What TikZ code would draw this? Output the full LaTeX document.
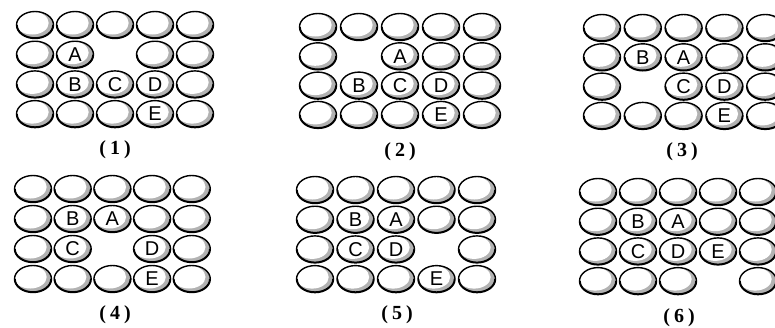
\documentclass[tikz,border=0pt]{standalone}
\usepackage{fontspec}
\usetikzlibrary{shapes.geometric,calc}
\newfontfamily\ballfont{Liberation Sans}
\newfontfamily\capfont{Liberation Serif}
\tikzset{
  ball/.style={ellipse, draw=black, line width=1.4pt, fill=white,
    minimum width=37pt, minimum height=27pt, inner sep=0pt,
    path picture={
      \fill[black!30] (path picture bounding box.center) ellipse [x radius=19pt, y radius=14pt];
      \fill[white] ($(path picture bounding box.center)+(-2.8pt,2pt)$) ellipse [x radius=16.5pt, y radius=11.5pt];
      \draw[line width=2.6pt] ($(path picture bounding box.center)+(-18.5pt,0pt)$)
        arc[start angle=180, end angle=360, x radius=18.5pt, y radius=13.5pt];
    }},
  letter/.style={inner sep=0pt, font=\ballfont\fontsize{20}{20}\selectfont},
  captext/.style={inner sep=0pt, font=\capfont\bfseries\fontsize{20}{20}\selectfont}
}
\newcommand\drawpanel[8]{%
  \foreach \c in {1,...,5}{\foreach \r in {1,...,4}{%
    \pgfmathtruncatemacro\isgap{(\c==#6)&&(\r==#7)}%
    \ifnum\isgap=0
      \node[ball] (#1-\c-\r) at ({#2+(\c-1)*#4},{#3+(\r-1)*#5}) {};
    \fi}}%
  \foreach \cc/\rr/\LL in {#8}{\node[letter] (#1-L\LL) at (#1-\cc-\rr) {\LL};}%
}
\newcommand\capt[1]{(\hspace{4pt}#1\hspace{4pt})}
\begin{document}
\begin{tikzpicture}[x=1pt,y=-1pt]
\fill[white] (0,0) rectangle (775,327);
\useasboundingbox (0,0) rectangle (775,327);
\drawpanel{p1}{35}{25}{40}{29.7}{3}{2}{2/2/A,2/3/B,3/3/C,4/3/D,4/4/E}
\drawpanel{p2}{318}{27}{41}{29.3}{2}{2}{3/2/A,2/3/B,3/3/C,4/3/D,4/4/E}
\drawpanel{p3}{602}{28}{40.8}{29.3}{2}{3}{3/2/A,2/2/B,3/3/C,4/3/D,4/4/E}
\drawpanel{p4}{33}{189}{39.7}{30}{3}{3}{3/2/A,2/2/B,2/3/C,4/3/D,4/4/E}
\drawpanel{p5}{315}{190}{40.5}{29.7}{4}{3}{3/2/A,2/2/B,2/3/C,3/3/D,4/4/E}
\drawpanel{p6}{598}{192}{40}{29.7}{4}{4}{3/2/A,2/2/B,2/3/C,3/3/D,4/3/E}
\node[captext] (c1) at (115,150) {\capt{1}};
\node[captext] (c2) at (400,152) {\capt{2}};
\node[captext] (c3) at (682,152) {\capt{3}};
\node[captext] (c4) at (115,315) {\capt{4}};
\node[captext] (c5) at (397,315) {\capt{5}};
\node[captext] (c6) at (679,318) {\capt{6}};
\end{tikzpicture}
\end{document}
